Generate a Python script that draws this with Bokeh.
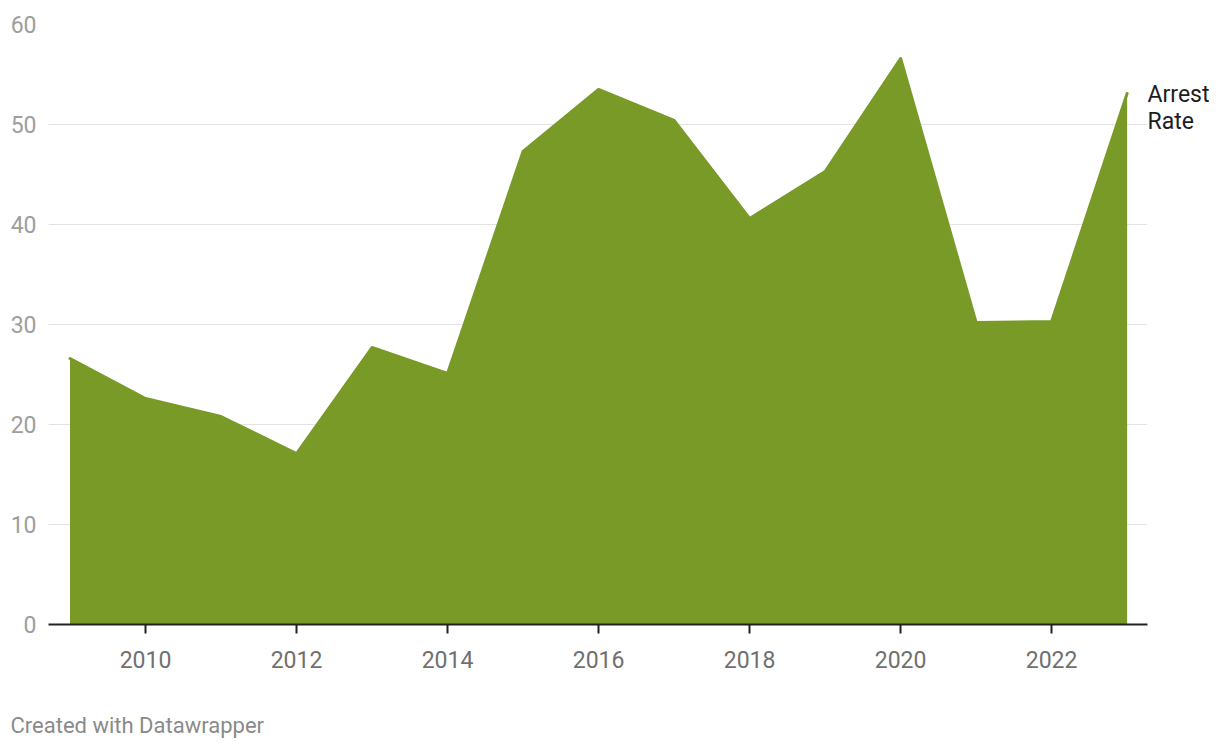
from bokeh.plotting import figure
from bokeh.models import FixedTicker, Range1d, LinearAxis, Title
from bokeh.embed import file_html
from bokeh.resources import INLINE

years = [2009, 2010, 2011, 2012, 2013, 2014, 2015, 2016, 2017, 2018, 2019, 2020, 2021, 2022, 2023]
arrest_rate = [26.6, 22.6, 20.8, 17.1, 27.7, 25.1, 47.3, 53.5, 50.4, 40.6, 45.3, 56.6, 30.2, 30.3, 53.1]
x_ticks = [2010, 2012, 2014, 2016, 2018, 2020, 2022]
y_ticks = [0, 10, 20, 30, 40, 50, 60]
series_name = ["Arrest", "Rate"]
series_label_y = [53.0, 50.3]
credit = "Created with Datawrapper"

FONT = "Roboto"
GREEN = "#7a9a28"

p = figure(width=1212, height=742, output_backend="svg", toolbar_location=None,
           x_range=Range1d(2008.715, 2023.27), y_range=Range1d(0, 60),
           min_border_left=48, min_border_right=65, min_border_top=24, min_border_bottom=118)
p.outline_line_color = None
p.background_fill_color = "white"

p.varea(x=years, y1=[0] * len(years), y2=arrest_rate, fill_color=GREEN, fill_alpha=1.0)
p.line(x=years, y=arrest_rate, line_color=GREEN, line_width=3, line_cap="round", line_join="round")

# axes
p.xaxis.ticker = FixedTicker(ticks=x_ticks)
p.yaxis.ticker = FixedTicker(ticks=y_ticks)
p.xaxis.axis_line_color = "#222222"
p.xaxis.axis_line_width = 2
p.xaxis.major_tick_line_color = "#222222"
p.xaxis.major_tick_line_width = 2
p.xaxis.major_tick_out = 9
p.xaxis.major_tick_in = 0
p.xaxis.minor_tick_line_color = None
p.xaxis.major_label_standoff = 17
p.xaxis.major_label_text_font = FONT
p.xaxis.major_label_text_font_size = "23px"
p.xaxis.major_label_text_color = "#707070"

p.yaxis.axis_line_color = None
p.yaxis.major_tick_line_color = None
p.yaxis.minor_tick_line_color = None
p.yaxis.major_tick_out = 0
p.yaxis.major_tick_in = 0
p.yaxis.major_label_standoff = 12
p.yaxis.major_label_text_font = FONT
p.yaxis.major_label_text_font_size = "23px"
p.yaxis.major_label_text_color = "#9e9e9e"

p.xgrid.grid_line_color = None
p.ygrid.grid_line_color = "#e3e3e3"
p.ygrid.grid_line_width = 1

# series label as a right-side axis
ra = LinearAxis(ticker=FixedTicker(ticks=series_label_y),
                major_label_overrides={series_label_y[0]: series_name[0], series_label_y[1]: series_name[1]})
ra.axis_line_color = None
ra.major_tick_line_color = None
ra.minor_tick_line_color = None
ra.major_tick_out = 0
ra.major_tick_in = 0
ra.major_label_standoff = 0
ra.major_label_text_font = FONT
ra.major_label_text_font_size = "23px"
ra.major_label_text_color = "#1d1d1d"
p.add_layout(ra, "right")

# spacer + credit
spacer = Title(text="\u00a0", align="left", standoff=0, text_font=FONT,
               text_font_size="32px", text_color="#ffffff")
p.add_layout(spacer, "below")
t = Title(text=credit, align="left", offset=-38, standoff=0, text_font=FONT,
          text_font_size="22px", text_font_style="normal", text_color="#8a8a8a")
p.add_layout(t, "below")

open("out.html", "w").write(file_html(p, INLINE))
